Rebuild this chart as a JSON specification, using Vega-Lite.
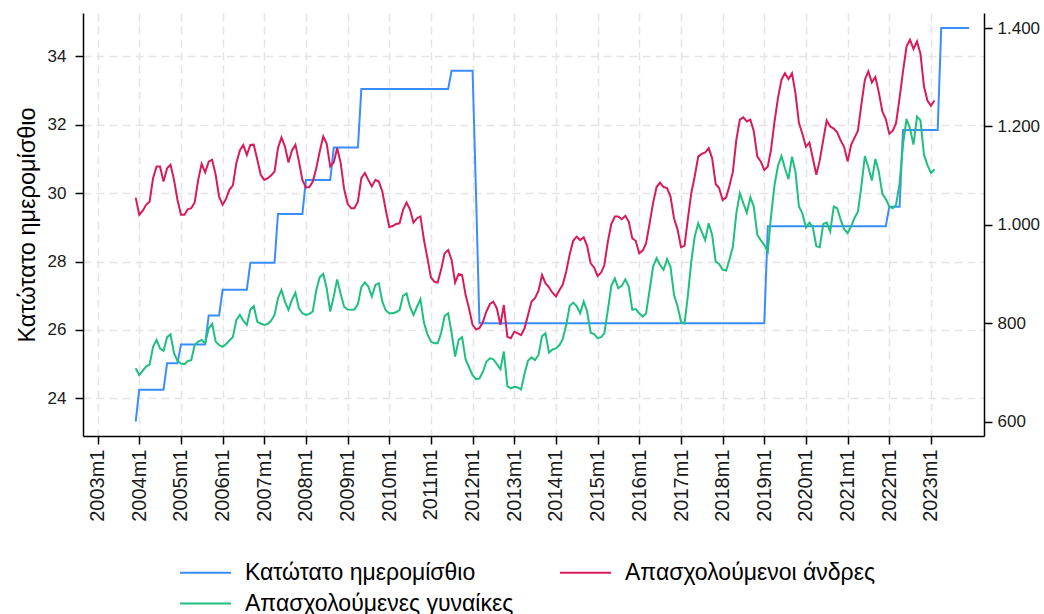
{
"$schema": "https://vega.github.io/schema/vega-lite/v6.json",
"width": 901, "height": 423,
"autosize": {"type": "none"},
"padding": {"left": 83, "top": 13, "right": 60, "bottom": 178},
"background": "white",
"config": {
  "font": "Liberation Sans",
  "view": {"stroke": null},
  "axis": {"labelFont": "Liberation Sans", "labelFontSize": 17, "labelColor": "#1a1a1a", "domainColor": "#000", "domainWidth": 1.5, "tickColor": "#000", "tickWidth": 1.5, "tickSize": 8, "titleFont": "Liberation Sans", "titleFontWeight": "normal", "titleColor": "#000"}
},
"data": {"values": [
{"date":"2003-12-01","wage":600,"men":29.87,"women":24.88},
{"date":"2004-01-01","wage":665,"men":29.37,"women":24.68},
{"date":"2004-02-01","wage":665,"men":29.49,"women":24.81},
{"date":"2004-03-01","wage":665,"men":29.66,"women":24.93},
{"date":"2004-04-01","wage":665,"men":29.75,"women":24.99},
{"date":"2004-05-01","wage":665,"men":30.44,"women":25.51},
{"date":"2004-06-01","wage":665,"men":30.78,"women":25.71},
{"date":"2004-07-01","wage":665,"men":30.78,"women":25.46},
{"date":"2004-08-01","wage":665,"men":30.34,"women":25.39},
{"date":"2004-09-01","wage":719,"men":30.73,"women":25.79},
{"date":"2004-10-01","wage":719,"men":30.83,"women":25.87},
{"date":"2004-11-01","wage":719,"men":30.39,"women":25.32},
{"date":"2004-12-01","wage":719,"men":29.81,"women":25.10},
{"date":"2005-01-01","wage":757,"men":29.37,"women":25.02},
{"date":"2005-02-01","wage":757,"men":29.37,"women":25.00},
{"date":"2005-03-01","wage":757,"men":29.53,"women":25.09},
{"date":"2005-04-01","wage":757,"men":29.56,"women":25.12},
{"date":"2005-05-01","wage":757,"men":29.73,"women":25.56},
{"date":"2005-06-01","wage":757,"men":30.39,"women":25.66},
{"date":"2005-07-01","wage":757,"men":30.86,"women":25.71},
{"date":"2005-08-01","wage":757,"men":30.61,"women":25.61},
{"date":"2005-09-01","wage":816,"men":30.92,"women":26.05},
{"date":"2005-10-01","wage":816,"men":30.98,"women":26.18},
{"date":"2005-11-01","wage":816,"men":30.54,"women":25.66},
{"date":"2005-12-01","wage":816,"men":29.90,"women":25.56},
{"date":"2006-01-01","wage":868,"men":29.66,"women":25.51},
{"date":"2006-02-01","wage":868,"men":29.84,"women":25.59},
{"date":"2006-03-01","wage":868,"men":30.10,"women":25.69},
{"date":"2006-04-01","wage":868,"men":30.23,"women":25.80},
{"date":"2006-05-01","wage":868,"men":30.88,"women":26.29},
{"date":"2006-06-01","wage":868,"men":31.25,"women":26.44},
{"date":"2006-07-01","wage":868,"men":31.41,"women":26.27},
{"date":"2006-08-01","wage":868,"men":31.12,"women":26.15},
{"date":"2006-09-01","wage":923,"men":31.41,"women":26.60},
{"date":"2006-10-01","wage":923,"men":31.42,"women":26.70},
{"date":"2006-11-01","wage":923,"men":30.98,"women":26.24},
{"date":"2006-12-01","wage":923,"men":30.54,"women":26.19},
{"date":"2007-01-01","wage":923,"men":30.39,"women":26.15},
{"date":"2007-02-01","wage":923,"men":30.44,"women":26.18},
{"date":"2007-03-01","wage":923,"men":30.52,"women":26.27},
{"date":"2007-04-01","wage":923,"men":30.63,"women":26.44},
{"date":"2007-05-01","wage":1022,"men":31.32,"women":26.93},
{"date":"2007-06-01","wage":1022,"men":31.63,"women":27.17},
{"date":"2007-07-01","wage":1022,"men":31.37,"women":26.83},
{"date":"2007-08-01","wage":1022,"men":30.90,"women":26.59},
{"date":"2007-09-01","wage":1022,"men":31.25,"women":26.88},
{"date":"2007-10-01","wage":1022,"men":31.42,"women":27.09},
{"date":"2007-11-01","wage":1022,"men":30.93,"women":26.63},
{"date":"2007-12-01","wage":1022,"men":30.39,"women":26.49},
{"date":"2008-01-01","wage":1091,"men":30.17,"women":26.44},
{"date":"2008-02-01","wage":1091,"men":30.18,"women":26.47},
{"date":"2008-03-01","wage":1091,"men":30.34,"women":26.54},
{"date":"2008-04-01","wage":1091,"men":30.73,"women":27.17},
{"date":"2008-05-01","wage":1091,"men":31.22,"women":27.54},
{"date":"2008-06-01","wage":1091,"men":31.66,"women":27.64},
{"date":"2008-07-01","wage":1091,"men":31.45,"women":27.22},
{"date":"2008-08-01","wage":1091,"men":30.78,"women":26.54},
{"date":"2008-09-01","wage":1157,"men":30.90,"women":26.98},
{"date":"2008-10-01","wage":1157,"men":31.32,"women":27.48},
{"date":"2008-11-01","wage":1157,"men":30.88,"women":27.05},
{"date":"2008-12-01","wage":1157,"men":30.12,"women":26.68},
{"date":"2009-01-01","wage":1157,"men":29.69,"women":26.60},
{"date":"2009-02-01","wage":1157,"men":29.56,"women":26.59},
{"date":"2009-03-01","wage":1157,"men":29.56,"women":26.60},
{"date":"2009-04-01","wage":1157,"men":29.76,"women":26.76},
{"date":"2009-05-01","wage":1276,"men":30.44,"women":27.25},
{"date":"2009-06-01","wage":1276,"men":30.59,"women":27.39},
{"date":"2009-07-01","wage":1276,"men":30.39,"women":27.27},
{"date":"2009-08-01","wage":1276,"men":30.20,"women":26.98},
{"date":"2009-09-01","wage":1276,"men":30.39,"women":27.32},
{"date":"2009-10-01","wage":1276,"men":30.34,"women":27.37},
{"date":"2009-11-01","wage":1276,"men":30.05,"women":26.83},
{"date":"2009-12-01","wage":1276,"men":29.51,"women":26.57},
{"date":"2010-01-01","wage":1276,"men":29.01,"women":26.49},
{"date":"2010-02-01","wage":1276,"men":29.04,"women":26.49},
{"date":"2010-03-01","wage":1276,"men":29.10,"women":26.52},
{"date":"2010-04-01","wage":1276,"men":29.12,"women":26.58},
{"date":"2010-05-01","wage":1276,"men":29.51,"women":27.00},
{"date":"2010-06-01","wage":1276,"men":29.73,"women":27.07},
{"date":"2010-07-01","wage":1276,"men":29.53,"women":26.68},
{"date":"2010-08-01","wage":1276,"men":29.14,"women":26.44},
{"date":"2010-09-01","wage":1276,"men":29.27,"women":26.68},
{"date":"2010-10-01","wage":1276,"men":29.32,"women":26.90},
{"date":"2010-11-01","wage":1276,"men":28.63,"women":26.21},
{"date":"2010-12-01","wage":1276,"men":28.10,"women":25.88},
{"date":"2011-01-01","wage":1276,"men":27.54,"women":25.66},
{"date":"2011-02-01","wage":1276,"men":27.41,"women":25.61},
{"date":"2011-03-01","wage":1276,"men":27.39,"women":25.61},
{"date":"2011-04-01","wage":1276,"men":27.78,"women":25.92},
{"date":"2011-05-01","wage":1276,"men":28.24,"women":26.41},
{"date":"2011-06-01","wage":1276,"men":28.34,"women":26.49},
{"date":"2011-07-01","wage":1313,"men":28.05,"women":25.92},
{"date":"2011-08-01","wage":1313,"men":27.39,"women":25.22},
{"date":"2011-09-01","wage":1313,"men":27.64,"women":25.71},
{"date":"2011-10-01","wage":1313,"men":27.61,"women":25.79},
{"date":"2011-11-01","wage":1313,"men":27.02,"women":25.14},
{"date":"2011-12-01","wage":1313,"men":26.63,"women":24.91},
{"date":"2012-01-01","wage":1313,"men":26.15,"women":24.68},
{"date":"2012-02-01","wage":1056,"men":26.02,"women":24.56},
{"date":"2012-03-01","wage":800,"men":26.05,"women":24.58},
{"date":"2012-04-01","wage":800,"men":26.24,"women":24.78},
{"date":"2012-05-01","wage":800,"men":26.54,"women":25.07},
{"date":"2012-06-01","wage":800,"men":26.76,"women":25.17},
{"date":"2012-07-01","wage":800,"men":26.83,"women":25.14},
{"date":"2012-08-01","wage":800,"men":26.63,"women":25.00},
{"date":"2012-09-01","wage":800,"men":26.15,"women":24.85},
{"date":"2012-10-01","wage":800,"men":26.73,"women":25.37},
{"date":"2012-11-01","wage":800,"men":25.80,"women":24.36},
{"date":"2012-12-01","wage":800,"men":25.76,"women":24.29},
{"date":"2013-01-01","wage":800,"men":25.95,"women":24.34},
{"date":"2013-02-01","wage":800,"men":25.90,"women":24.32},
{"date":"2013-03-01","wage":800,"men":25.85,"women":24.26},
{"date":"2013-04-01","wage":800,"men":26.05,"women":24.73},
{"date":"2013-05-01","wage":800,"men":26.44,"women":25.10},
{"date":"2013-06-01","wage":800,"men":26.83,"women":25.20},
{"date":"2013-07-01","wage":800,"men":26.93,"women":25.12},
{"date":"2013-08-01","wage":800,"men":27.15,"women":25.27},
{"date":"2013-09-01","wage":800,"men":27.61,"women":25.82},
{"date":"2013-10-01","wage":800,"men":27.37,"women":25.90},
{"date":"2013-11-01","wage":800,"men":27.25,"women":25.34},
{"date":"2013-12-01","wage":800,"men":27.09,"women":25.43},
{"date":"2014-01-01","wage":800,"men":26.98,"women":25.46},
{"date":"2014-02-01","wage":800,"men":27.17,"women":25.56},
{"date":"2014-03-01","wage":800,"men":27.32,"women":25.73},
{"date":"2014-04-01","wage":800,"men":27.71,"women":26.15},
{"date":"2014-05-01","wage":800,"men":28.21,"women":26.70},
{"date":"2014-06-01","wage":800,"men":28.61,"women":26.80},
{"date":"2014-07-01","wage":800,"men":28.73,"women":26.70},
{"date":"2014-08-01","wage":800,"men":28.63,"women":26.49},
{"date":"2014-09-01","wage":800,"men":28.71,"women":26.83},
{"date":"2014-10-01","wage":800,"men":28.46,"women":26.54},
{"date":"2014-11-01","wage":800,"men":27.95,"women":25.92},
{"date":"2014-12-01","wage":800,"men":27.83,"women":25.88},
{"date":"2015-01-01","wage":800,"men":27.58,"women":25.76},
{"date":"2015-02-01","wage":800,"men":27.68,"women":25.79},
{"date":"2015-03-01","wage":800,"men":27.90,"women":25.90},
{"date":"2015-04-01","wage":800,"men":28.59,"women":26.59},
{"date":"2015-05-01","wage":800,"men":29.10,"women":27.29},
{"date":"2015-06-01","wage":800,"men":29.32,"women":27.51},
{"date":"2015-07-01","wage":800,"men":29.32,"women":27.22},
{"date":"2015-08-01","wage":800,"men":29.24,"women":27.29},
{"date":"2015-09-01","wage":800,"men":29.34,"women":27.48},
{"date":"2015-10-01","wage":800,"men":29.17,"women":27.27},
{"date":"2015-11-01","wage":800,"men":28.68,"women":26.59},
{"date":"2015-12-01","wage":800,"men":28.61,"women":26.61},
{"date":"2016-01-01","wage":800,"men":28.24,"women":26.49},
{"date":"2016-02-01","wage":800,"men":28.32,"women":26.39},
{"date":"2016-03-01","wage":800,"men":28.54,"women":26.49},
{"date":"2016-04-01","wage":800,"men":29.12,"women":27.17},
{"date":"2016-05-01","wage":800,"men":29.71,"women":27.85},
{"date":"2016-06-01","wage":800,"men":30.18,"women":28.10},
{"date":"2016-07-01","wage":800,"men":30.31,"women":27.90},
{"date":"2016-08-01","wage":800,"men":30.18,"women":27.76},
{"date":"2016-09-01","wage":800,"men":30.15,"women":28.07},
{"date":"2016-10-01","wage":800,"men":29.90,"women":27.85},
{"date":"2016-11-01","wage":800,"men":29.26,"women":27.02},
{"date":"2016-12-01","wage":800,"men":28.95,"women":26.70},
{"date":"2017-01-01","wage":800,"men":28.42,"women":26.24},
{"date":"2017-02-01","wage":800,"men":28.46,"women":26.19},
{"date":"2017-03-01","wage":800,"men":29.22,"women":26.97},
{"date":"2017-04-01","wage":800,"men":30.00,"women":28.00},
{"date":"2017-05-01","wage":800,"men":30.49,"women":28.73},
{"date":"2017-06-01","wage":800,"men":31.07,"women":29.12},
{"date":"2017-07-01","wage":800,"men":31.15,"women":28.88},
{"date":"2017-08-01","wage":800,"men":31.19,"women":28.63},
{"date":"2017-09-01","wage":800,"men":31.32,"women":29.12},
{"date":"2017-10-01","wage":800,"men":31.02,"women":28.78},
{"date":"2017-11-01","wage":800,"men":30.27,"women":28.00},
{"date":"2017-12-01","wage":800,"men":30.15,"women":27.93},
{"date":"2018-01-01","wage":800,"men":29.80,"women":27.76},
{"date":"2018-02-01","wage":800,"men":29.88,"women":27.74},
{"date":"2018-03-01","wage":800,"men":30.21,"women":28.05},
{"date":"2018-04-01","wage":800,"men":30.63,"women":28.44},
{"date":"2018-05-01","wage":800,"men":31.56,"women":29.41},
{"date":"2018-06-01","wage":800,"men":32.15,"women":30.00},
{"date":"2018-07-01","wage":800,"men":32.22,"women":29.71},
{"date":"2018-08-01","wage":800,"men":32.10,"women":29.43},
{"date":"2018-09-01","wage":800,"men":32.15,"women":29.88},
{"date":"2018-10-01","wage":800,"men":31.81,"women":29.61},
{"date":"2018-11-01","wage":800,"men":31.07,"women":28.78},
{"date":"2018-12-01","wage":800,"men":30.93,"women":28.63},
{"date":"2019-01-01","wage":800,"men":30.68,"women":28.49},
{"date":"2019-02-01","wage":997,"men":30.78,"women":28.29},
{"date":"2019-03-01","wage":997,"men":31.27,"women":29.32},
{"date":"2019-04-01","wage":997,"men":32.10,"women":30.24},
{"date":"2019-05-01","wage":997,"men":32.78,"women":30.80},
{"date":"2019-06-01","wage":997,"men":33.32,"women":31.09},
{"date":"2019-07-01","wage":997,"men":33.51,"women":30.73},
{"date":"2019-08-01","wage":997,"men":33.34,"women":30.41},
{"date":"2019-09-01","wage":997,"men":33.51,"women":31.07},
{"date":"2019-10-01","wage":997,"men":32.93,"women":30.63},
{"date":"2019-11-01","wage":997,"men":32.05,"women":29.61},
{"date":"2019-12-01","wage":997,"men":31.74,"women":29.41},
{"date":"2020-01-01","wage":997,"men":31.36,"women":29.00},
{"date":"2020-02-01","wage":997,"men":31.48,"women":29.14},
{"date":"2020-03-01","wage":997,"men":31.03,"women":29.02},
{"date":"2020-04-01","wage":997,"men":30.54,"women":28.45},
{"date":"2020-05-01","wage":997,"men":30.96,"women":28.42},
{"date":"2020-06-01","wage":997,"men":31.56,"women":29.10},
{"date":"2020-07-01","wage":997,"men":32.13,"women":29.14},
{"date":"2020-08-01","wage":997,"men":31.95,"women":28.88},
{"date":"2020-09-01","wage":997,"men":31.89,"women":29.61},
{"date":"2020-10-01","wage":997,"men":31.78,"women":29.56},
{"date":"2020-11-01","wage":997,"men":31.54,"women":29.22},
{"date":"2020-12-01","wage":997,"men":31.35,"women":28.95},
{"date":"2021-01-01","wage":997,"men":30.93,"women":28.83},
{"date":"2021-02-01","wage":997,"men":31.42,"women":29.04},
{"date":"2021-03-01","wage":997,"men":31.61,"women":29.27},
{"date":"2021-04-01","wage":997,"men":31.83,"women":29.46},
{"date":"2021-05-01","wage":997,"men":32.59,"women":30.20},
{"date":"2021-06-01","wage":997,"men":33.32,"women":31.09},
{"date":"2021-07-01","wage":997,"men":33.56,"women":30.76},
{"date":"2021-08-01","wage":997,"men":33.24,"women":30.37},
{"date":"2021-09-01","wage":997,"men":33.40,"women":31.00},
{"date":"2021-10-01","wage":997,"men":32.95,"women":30.63},
{"date":"2021-11-01","wage":997,"men":32.39,"women":29.98},
{"date":"2021-12-01","wage":997,"men":32.17,"women":29.83},
{"date":"2022-01-01","wage":1037,"men":31.74,"women":29.61},
{"date":"2022-02-01","wage":1037,"men":31.83,"women":29.56},
{"date":"2022-03-01","wage":1037,"men":32.05,"women":29.66},
{"date":"2022-04-01","wage":1037,"men":32.78,"women":30.29},
{"date":"2022-05-01","wage":1193,"men":33.56,"women":31.42},
{"date":"2022-06-01","wage":1193,"men":34.29,"women":32.17},
{"date":"2022-07-01","wage":1193,"men":34.49,"women":31.90},
{"date":"2022-08-01","wage":1193,"men":34.22,"women":31.42},
{"date":"2022-09-01","wage":1193,"men":34.44,"women":32.24},
{"date":"2022-10-01","wage":1193,"men":34.08,"women":32.13},
{"date":"2022-11-01","wage":1193,"men":33.12,"women":31.12},
{"date":"2022-12-01","wage":1193,"men":32.71,"women":30.83},
{"date":"2023-01-01","wage":1193,"men":32.56,"women":30.59},
{"date":"2023-02-01","wage":1193,"men":32.71,"women":30.70},
{"date":"2023-03-01","wage":1193},
{"date":"2023-04-01","wage":1400},
{"date":"2023-05-01","wage":1400},
{"date":"2023-06-01","wage":1400},
{"date":"2023-07-01","wage":1400},
{"date":"2023-08-01","wage":1400},
{"date":"2023-09-01","wage":1400},
{"date":"2023-10-01","wage":1400},
{"date":"2023-11-01","wage":1400},
{"date":"2023-12-01","wage":1400}
]},
"encoding": {
  "x": {"field": "date", "type": "temporal",
    "scale": {"type": "utc", "domain": [{"year": 2002, "month": 8, "date": 26, "utc": true}, {"year": 2024, "month": 4, "date": 10, "utc": true}]},
    "axis": {"title": null, "values": [{"year":2003,"utc":true},{"year":2004,"utc":true},{"year":2005,"utc":true},{"year":2006,"utc":true},{"year":2007,"utc":true},{"year":2008,"utc":true},{"year":2009,"utc":true},{"year":2010,"utc":true},{"year":2011,"utc":true},{"year":2012,"utc":true},{"year":2013,"utc":true},{"year":2014,"utc":true},{"year":2015,"utc":true},{"year":2016,"utc":true},{"year":2017,"utc":true},{"year":2018,"utc":true},{"year":2019,"utc":true},{"year":2020,"utc":true},{"year":2021,"utc":true},{"year":2022,"utc":true},{"year":2023,"utc":true}],
      "labelExpr": "utcFormat(datum.value, '%Y') + 'm1'", "labelAngle": -90, "labelPadding": 5, "labelFontSize": 20,
      "grid": true, "gridDash": [8, 5], "gridColor": "#e4e4e4", "gridWidth": 1.5}
  }
},
"layer": [
  {
    "mark": {"type": "line", "strokeWidth": 2},
    "encoding": {
      "y": {"field": "wage", "type": "quantitative", "scale": {"domain": [571, 1430.5], "nice": false, "zero": false},
        "axis": {"orient": "right", "title": null, "values": [600, 800, 1000, 1200, 1400], "grid": false, "labelPadding": 5,
          "labelExpr": "replace(format(datum.value, ','), ',', '.')"}},
      "color": {"datum": "Κατώτατο ημερομίσθιο", "type": "nominal",
        "scale": {"domain": ["Κατώτατο ημερομίσθιο", "Απασχολούμενοι άνδρες", "Απασχολούμενες γυναίκες"], "range": ["#3a8dff", "#d81b5a", "#1fc07f"]},
        "legend": {"orient": "none", "legendX": 111, "legendY": 548, "columns": 2, "direction": "horizontal", "title": null,
          "symbolType": "M-2.55,0L2.55,0", "symbolSize": 400, "symbolStrokeWidth": 2, "labelFontSize": 23, "labelFont": "Liberation Sans",
          "labelColor": "#000", "labelLimit": 600, "columnPadding": 42, "rowPadding": 7, "labelOffset": 28, "padding": 0}}
    }
  },
  {
    "layer": [
      {"mark": {"type": "line", "strokeWidth": 2},
       "encoding": {
         "y": {"field": "men", "type": "quantitative", "scale": {"domain": [22.9, 35.27], "nice": false, "zero": false},
           "axis": {"orient": "left", "title": "Κατώτατο ημερομίσθιο", "titleFontSize": 23.5, "titlePadding": 8, "labelPadding": 9,
             "values": [24, 26, 28, 30, 32, 34], "grid": true, "gridDash": [8, 5], "gridColor": "#e4e4e4", "gridWidth": 1.5}},
         "color": {"datum": "Απασχολούμενοι άνδρες", "type": "nominal"}
       }},
      {"mark": {"type": "line", "strokeWidth": 2},
       "encoding": {
         "y": {"field": "women", "type": "quantitative"},
         "color": {"datum": "Απασχολούμενες γυναίκες", "type": "nominal"}
       }}
    ]
  }
],
"resolve": {"scale": {"y": "independent"}}
}
